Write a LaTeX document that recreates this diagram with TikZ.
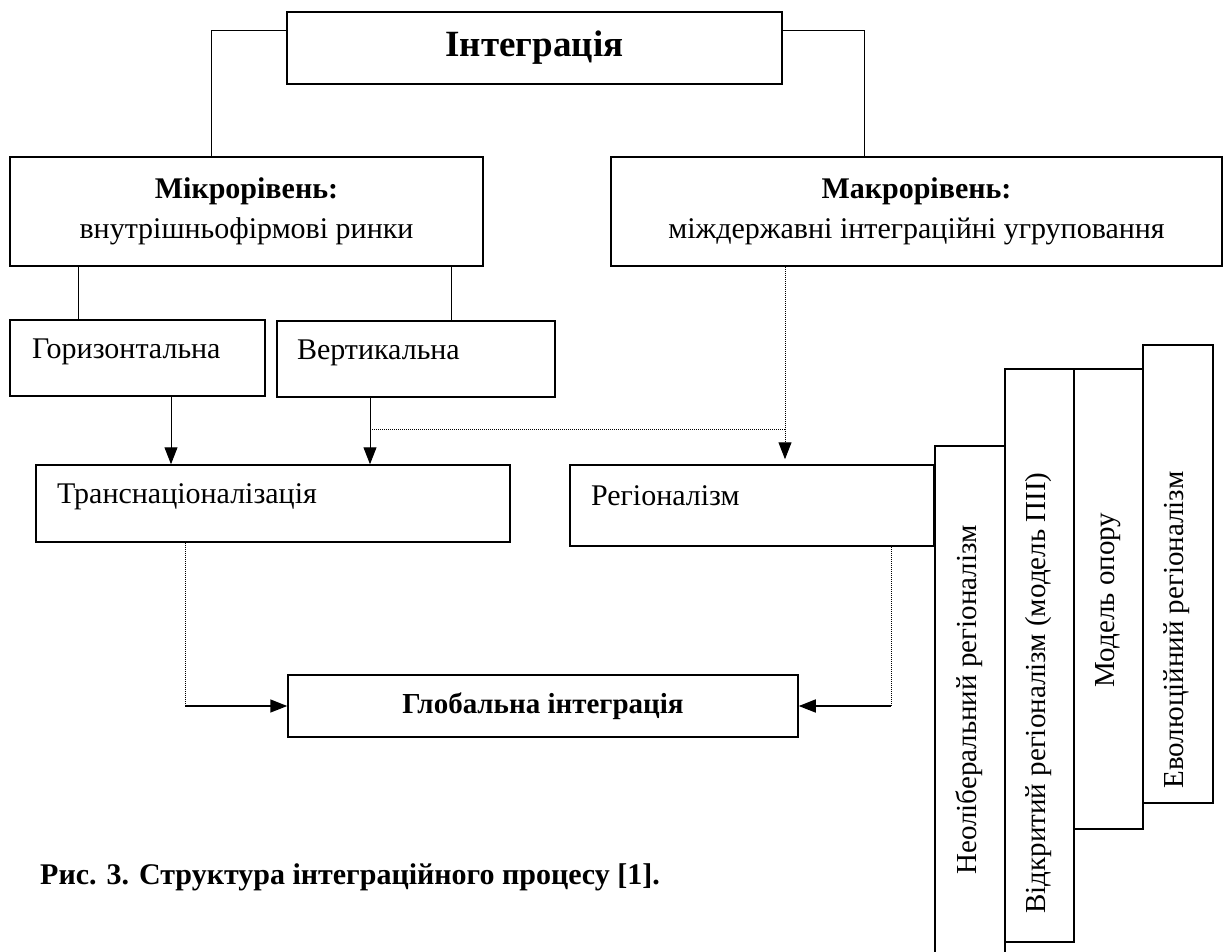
\documentclass[tikz,border=0pt]{standalone}
\usepackage{fontspec}
\setmainfont{Liberation Serif}
\usetikzlibrary{arrows.meta}
\tikzset{
  box/.style={draw, line width=1.5pt, inner sep=0pt, font=\fontsize{30}{40}\selectfont},
  lbox/.style={box, align=left, text height=20pt, text depth=20pt},
  vbox/.style={draw, line width=1.5pt, anchor=north west, inner sep=0pt},
  vtext/.style={rotate=90, inner sep=0pt, font=\fontsize{29}{34}\selectfont},
  link/.style={line width=1pt},
  dotline/.style={line width=1pt, densely dotted},
  tip/.style={-{Triangle[length=17pt,width=13pt]}}
}
\begin{document}
\begin{tikzpicture}[x=1pt,y=-1pt]
  \useasboundingbox (0,0) rectangle (1224,951);
  \clip (0,0) rectangle (1224,951);
  \node [box, minimum width=495pt, minimum height=72pt, font=\bfseries\fontsize{37}{40}\selectfont] (integ) at (534.5,48) {Інтеграція};
  \node [box, minimum width=473pt, minimum height=109pt, align=center] (micro) at (246.5,211.5) {\textbf{Мікрорівень:}\\внутрішньофірмові ринки};
  \node [box, minimum width=611pt, minimum height=109pt, align=center] (macro) at (916.5,211.5) {\textbf{Макрорівень:}\\міждержавні інтеграційні угруповання};
  \node [lbox, text width=211pt, inner xsep=22pt, minimum height=76pt] (horiz) at (137.5,358) {Горизонтальна};
  \node [lbox, text width=238pt, inner xsep=20pt, minimum height=76pt] (vert) at (416,359) {Вертикальна};
  \node [lbox, text width=432pt, inner xsep=21pt, minimum height=77pt] (trans) at (273,503.5) {Транснаціоналізація};
  \node [lbox, text width=322pt, inner xsep=21pt, minimum height=81pt] (region) at (752,505.5) {Регіоналізм};
  \node [box, minimum width=510pt, minimum height=62pt, font=\bfseries\fontsize{29}{34}\selectfont] (glob) at (543,706) {Глобальна інтеграція};
  \node [vbox, minimum width=70pt, minimum height=540pt] (neo) at (934,445) {};
  \node [vbox, minimum width=69pt, minimum height=573pt] (open) at (1004,368) {};
  \node [vbox, minimum width=69pt, minimum height=460pt] (model) at (1073,368) {};
  \node [vbox, minimum width=70pt, minimum height=458pt] (evol) at (1142,344) {};
  \node [vtext] (neotext) at (969,700) {Неоліберальний регіоналізм};
  \node [vtext] (opentext) at (1039,693) {Відкритий регіоналізм (модель ПІІ)};
  \node [vtext] (modeltext) at (1108,600) {Модель опору};
  \node [vtext] (evoltext) at (1177,630) {Еволюційний регіоналізм};
  \node [anchor=base west, inner sep=0pt, font=\bfseries\fontsize{30}{34}\selectfont] (caption) at (40,884) {Рис. 3. Структура інтеграційного процесу [1].};
  \coordinate (tl) at (211,30);
  \coordinate (tr) at (864,30);
  \coordinate (mh) at (78,0);
  \coordinate (mv) at (451,0);
  \coordinate (ht) at (171,0);
  \coordinate (vt) at (370,429);
  \coordinate (rg) at (785,0);
  \coordinate (tg) at (185,0);
  \coordinate (rgl) at (891,0);
  \draw [link] (integ.west|-tl) -| (micro.north-|tl);
  \draw [link] (integ.east|-tr) -| (macro.north-|tr);
  \draw [link] (micro.south-|mh) -- (horiz.north-|mh);
  \draw [link] (micro.south-|mv) -- (vert.north-|mv);
  \draw [link, tip] (horiz.south-|ht) -- (trans.north-|ht);
  \draw [link, tip] (vert.south-|vt) -- (trans.north-|vt);
  \draw [dotline] (vt) -- (vt-|rg);
  \draw [dotline, tip, shorten >=5pt] (macro.south-|rg) -- (region.north-|rg);
  \draw [dotline] (trans.south-|tg) -- (tg|-glob.west);
  \draw [link, line width=1.6pt, tip] (tg|-glob.west) -- (glob.west);
  \draw [dotline] (region.south-|rgl) -- (rgl|-glob.east);
  \draw [link, line width=1.6pt, tip] (rgl|-glob.east) -- (glob.east);
\end{tikzpicture}
\end{document}
